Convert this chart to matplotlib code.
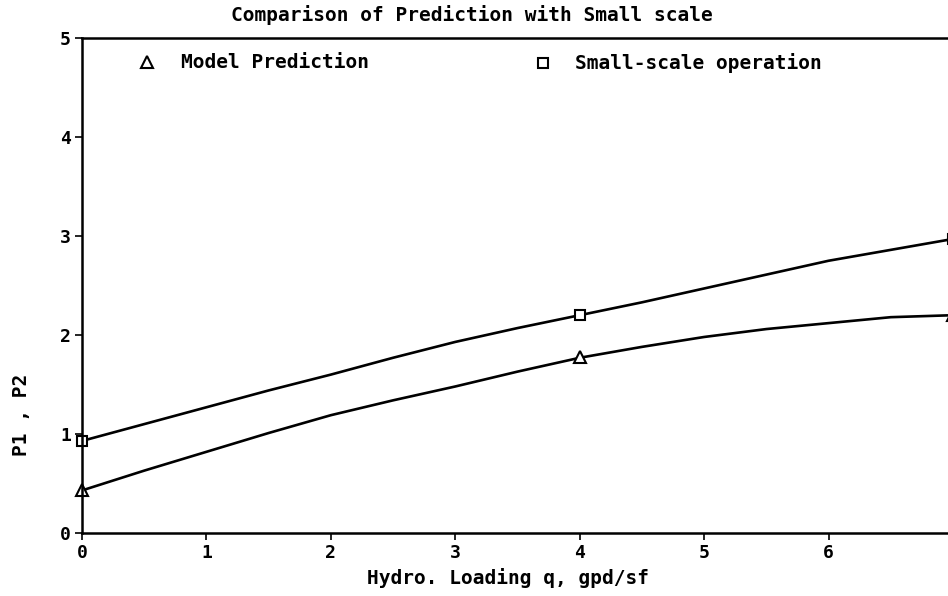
import numpy as np
import matplotlib
matplotlib.use("Agg")
from matplotlib import pyplot as plt

# curve values
curve_x = [0, 0.5, 1, 1.5, 2, 2.5, 3, 3.5, 4, 4.5, 5, 5.5, 6, 6.5, 7]
model_curve = [0.43, 0.63, 0.82, 1.01, 1.19, 1.34, 1.48, 1.63, 1.77, 1.88,
               1.98, 2.06, 2.12, 2.18, 2.20]
small_curve = [0.93, 1.10, 1.27, 1.44, 1.60, 1.77, 1.93, 2.07, 2.20, 2.33,
               2.47, 2.61, 2.75, 2.86, 2.97]

# measured / predicted points
point_x = [0, 4, 7]
model_points = [0.43, 1.78, 2.20]
small_points = [0.93, 2.20, 2.97]

x_ticks = [0, 1, 2, 3, 4, 5, 6, 7]
y_ticks = [0, 1, 2, 3, 4, 5]

font = dict(family="DejaVu Sans Mono", weight="bold")

W, H = 948, 596
fig = plt.figure(figsize=(W / 100, H / 100), dpi=100)
ax = fig.add_axes([82 / W, 63 / H, 871 / W, 495 / H])

ax.plot(curve_x, model_curve, color="black", lw=1.9)
ax.plot(curve_x, small_curve, color="black", lw=1.9)
ax.plot(point_x, model_points, "^", mfc="white", mec="black", mew=1.5, ms=8,
        clip_on=False)
ax.plot(point_x, small_points, "s", mfc="white", mec="black", mew=1.5, ms=7,
        clip_on=False)

ax.set_xlim(0, 7)
ax.set_ylim(0, 5)
ax.set_xticks(x_ticks)
ax.set_yticks(y_ticks)
ax.set_xticklabels([str(t) for t in x_ticks], fontsize=13, **font)
ax.set_yticklabels([str(t) for t in y_ticks], fontsize=13, **font)
ax.tick_params(direction="out", length=5, width=1.2, pad=3)
for s in ax.spines.values():
    s.set_linewidth(1.8)

fig.text(472 / W, 1 - 15 / H, "Comparison of Prediction with Small scale",
         ha="center", va="center", fontsize=14, **font)
fig.text(508 / W, 1 - 578 / H, "Hydro. Loading q, gpd/sf",
         ha="center", va="center", fontsize=14, **font)
fig.text(22 / W, 1 - 415 / H, "P1 , P2", rotation=90,
         ha="center", va="center", fontsize=14, **font)

# legend drawn by hand, as in the original
fig.lines.append(plt.Line2D([147 / W], [1 - 62 / H], marker="^", mfc="white",
                            mec="black", mew=1.5, ms=8,
                            transform=fig.transFigure))
fig.text(181 / W, 1 - 63 / H, "Model Prediction", ha="left", va="center",
         fontsize=14, **font)
fig.lines.append(plt.Line2D([543 / W], [1 - 63 / H], marker="s", mfc="white",
                            mec="black", mew=1.5, ms=7,
                            transform=fig.transFigure))
fig.text(575 / W, 1 - 63 / H, "Small-scale operation", ha="left",
         va="center", fontsize=14, **font)

fig.savefig("out.png", dpi=100)
